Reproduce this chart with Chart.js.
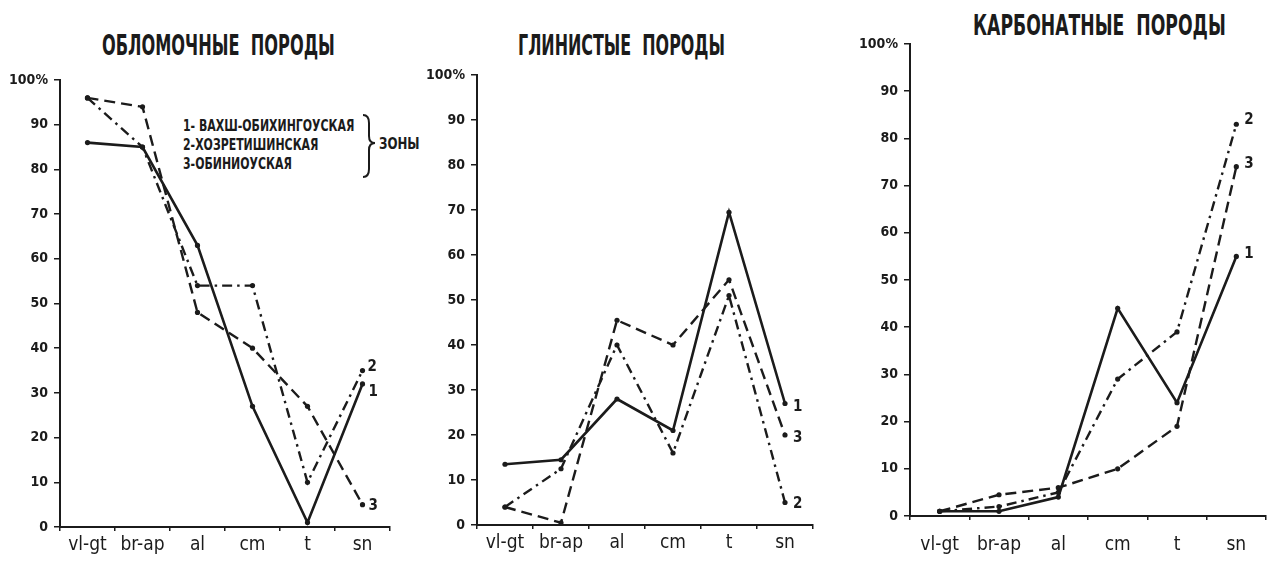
<!DOCTYPE html>
<html><head><meta charset="utf-8">
<script src="https://cdn.jsdelivr.net/npm/chart.js@4.4.0/dist/chart.umd.min.js"></script>
<style>
html,body{margin:0;padding:0;background:#fff;width:1270px;height:564px;overflow:hidden;}
.wrap{position:absolute;}
.t{position:absolute;font-family:'DejaVu Sans Condensed','Liberation Sans Narrow','DejaVu Sans',sans-serif;font-weight:bold;color:#1b1b1b;white-space:nowrap;line-height:1;}
svg{position:absolute;left:0;top:0;}
</style></head><body>
<div class="t" style="left:102px;top:31px;font-size:29px;transform:scaleX(0.62);transform-origin:left;">ОБЛОМОЧНЫЕ&nbsp;&nbsp;ПОРОДЫ</div>
<div class="t" style="left:518px;top:31px;font-size:29px;transform:scaleX(0.61);transform-origin:left;">ГЛИНИСТЫЕ&nbsp;&nbsp;ПОРОДЫ</div>
<div class="t" style="left:973px;top:11px;font-size:29px;transform:scaleX(0.66);transform-origin:left;">КАРБОНАТНЫЕ&nbsp;&nbsp;ПОРОДЫ</div>
<div class="t" style="left:183px;top:116px;font-size:16px;line-height:19px;transform:scaleX(0.76);transform-origin:left;">1- ВАХШ-ОБИХИНГОУСКАЯ<br>2-ХОЗРЕТИШИНСКАЯ<br>3-ОБИНИОУСКАЯ</div>
<svg width="1270" height="564"><path d="M363,115 Q369,115 369,123 L369,136 Q369,143 375,143 Q369,143 369,150 L369,169 Q369,177 363,177" fill="none" stroke="#1b1b1b" stroke-width="2"/></svg>
<div class="t" style="left:379px;top:136px;font-size:16px;transform:scaleX(0.82);transform-origin:left;">ЗОНЫ</div>

<div class="wrap" style="left:0px;top:60px;width:400px;height:500px;"><canvas id="c1"></canvas></div>
<div class="wrap" style="left:417px;top:55px;width:410px;height:505px;"><canvas id="c2"></canvas></div>
<div class="wrap" style="left:850px;top:24px;width:420px;height:540px;"><canvas id="c3"></canvas></div>
<script>
const categories = ['vl-gt','br-ap','al','cm','t','sn'];
const yTickLabels = ['0','10','20','30','40','50','60','70','80','90','100%'];

// ОБЛОМОЧНЫЕ ПОРОДЫ
const clastic1 = [86, 85, 63, 27, 1, 32];
const clastic2 = [96, 85, 54, 54, 10, 35];
const clastic3 = [96, 94, 48, 40, 27, 5];
// ГЛИНИСТЫЕ ПОРОДЫ
const clay1 = [13.5, 14.5, 28, 21, 69.5, 27];
const clay2 = [4, 12.5, 40, 16, 51, 5];
const clay3 = [4, 0.5, 45.5, 40, 54.5, 20];
// КАРБОНАТНЫЕ ПОРОДЫ
const carb1 = [1, 1, 4, 44, 24, 55];
const carb2 = [1, 2, 5, 29, 39, 83];
const carb3 = [1, 4.5, 6, 10, 19, 74];

const seriesNames = ['1','2','3'];
const INK = '#1b1b1b';
const FONT = "'DejaVu Sans Condensed','Liberation Sans Narrow','DejaVu Sans',sans-serif";

const endLabels = {
  id: 'endLabels',
  afterDatasetsDraw(chart, args, opts) {
    const ctx = chart.ctx;
    ctx.save();
    ctx.fillStyle = INK;
    ctx.font = 'bold 15px ' + FONT;
    ctx.textBaseline = 'middle';
    chart.data.datasets.forEach((ds, i) => {
      const meta = chart.getDatasetMeta(i);
      const p = meta.data[meta.data.length - 1];
      const off = opts.offsets[i];
      ctx.fillText(seriesNames[i], p.x + off[0], p.y + off[1]);
    });
    ctx.restore();
  }
};

function makeChart(id, d1, d2, d3, cfg) {
  const base = {borderColor: INK, backgroundColor: INK, borderWidth: 2.4, pointRadius: 2.6, pointBackgroundColor: INK, pointBorderWidth: 0, tension: 0, fill: false};
  return new Chart(document.getElementById(id), {
    type: 'line',
    data: {
      labels: categories,
      datasets: [
        Object.assign({label: seriesNames[0], data: d1}, base, {borderWidth: 2.6}),
        Object.assign({label: seriesNames[1], data: d2, borderDash: [10, 5, 2.5, 5]}, base),
        Object.assign({label: seriesNames[2], data: d3, borderDash: [11, 6]}, base)
      ]
    },
    options: {
      responsive: true, maintainAspectRatio: false, animation: false,
      layout: {padding: cfg.padding},
      plugins: {legend: {display: false}, tooltip: {enabled: false}, title: {display: false}, endLabels: {offsets: cfg.offsets}},
      scales: {
        x: {
          offset: true,
          border: {color: INK, width: 2},
          grid: {display: true, drawOnChartArea: false, offset: true, color: INK, lineWidth: 1.5, tickLength: 4},
          ticks: {color: INK, font: {family: FONT, size: 19, weight: 'normal'}, padding: cfg.xpad, maxRotation: 0, autoSkip: false},
          afterFit(s) { s.height = cfg.xh; }
        },
        y: {
          min: 0, max: 100,
          border: {color: INK, width: 2},
          grid: {display: true, drawOnChartArea: false, color: INK, lineWidth: 1.5, tickLength: 6},
          ticks: {stepSize: 10, color: INK, font: {family: FONT, size: 14, weight: 'bold'}, padding: 6,
            callback: (v) => yTickLabels[Math.round(v / 10)]},
          afterFit(s) { s.width = cfg.yw; }
        }
      }
    },
    plugins: [endLabels]
  });
}

makeChart('c1', clastic1, clastic2, clastic3, {padding: {top: 20, right: 10, left: 0, bottom: 0}, yw: 60, xh: 33, xpad: 3,
  offsets: [[6, 8], [5, -3], [6, 1]]});
makeChart('c2', clay1, clay2, clay3, {padding: {top: 20, right: 14, left: 0, bottom: 0}, yw: 60, xh: 35, xpad: 3,
  offsets: [[8, 4], [8, 2], [8, 3]]});
makeChart('c3', carb1, carb2, carb3, {padding: {top: 20, right: 0, left: 0, bottom: 0}, yw: 60, xh: 48, xpad: 14,
  offsets: [[8, -2], [8, -4], [8, -3]]});
</script>
</body></html>
